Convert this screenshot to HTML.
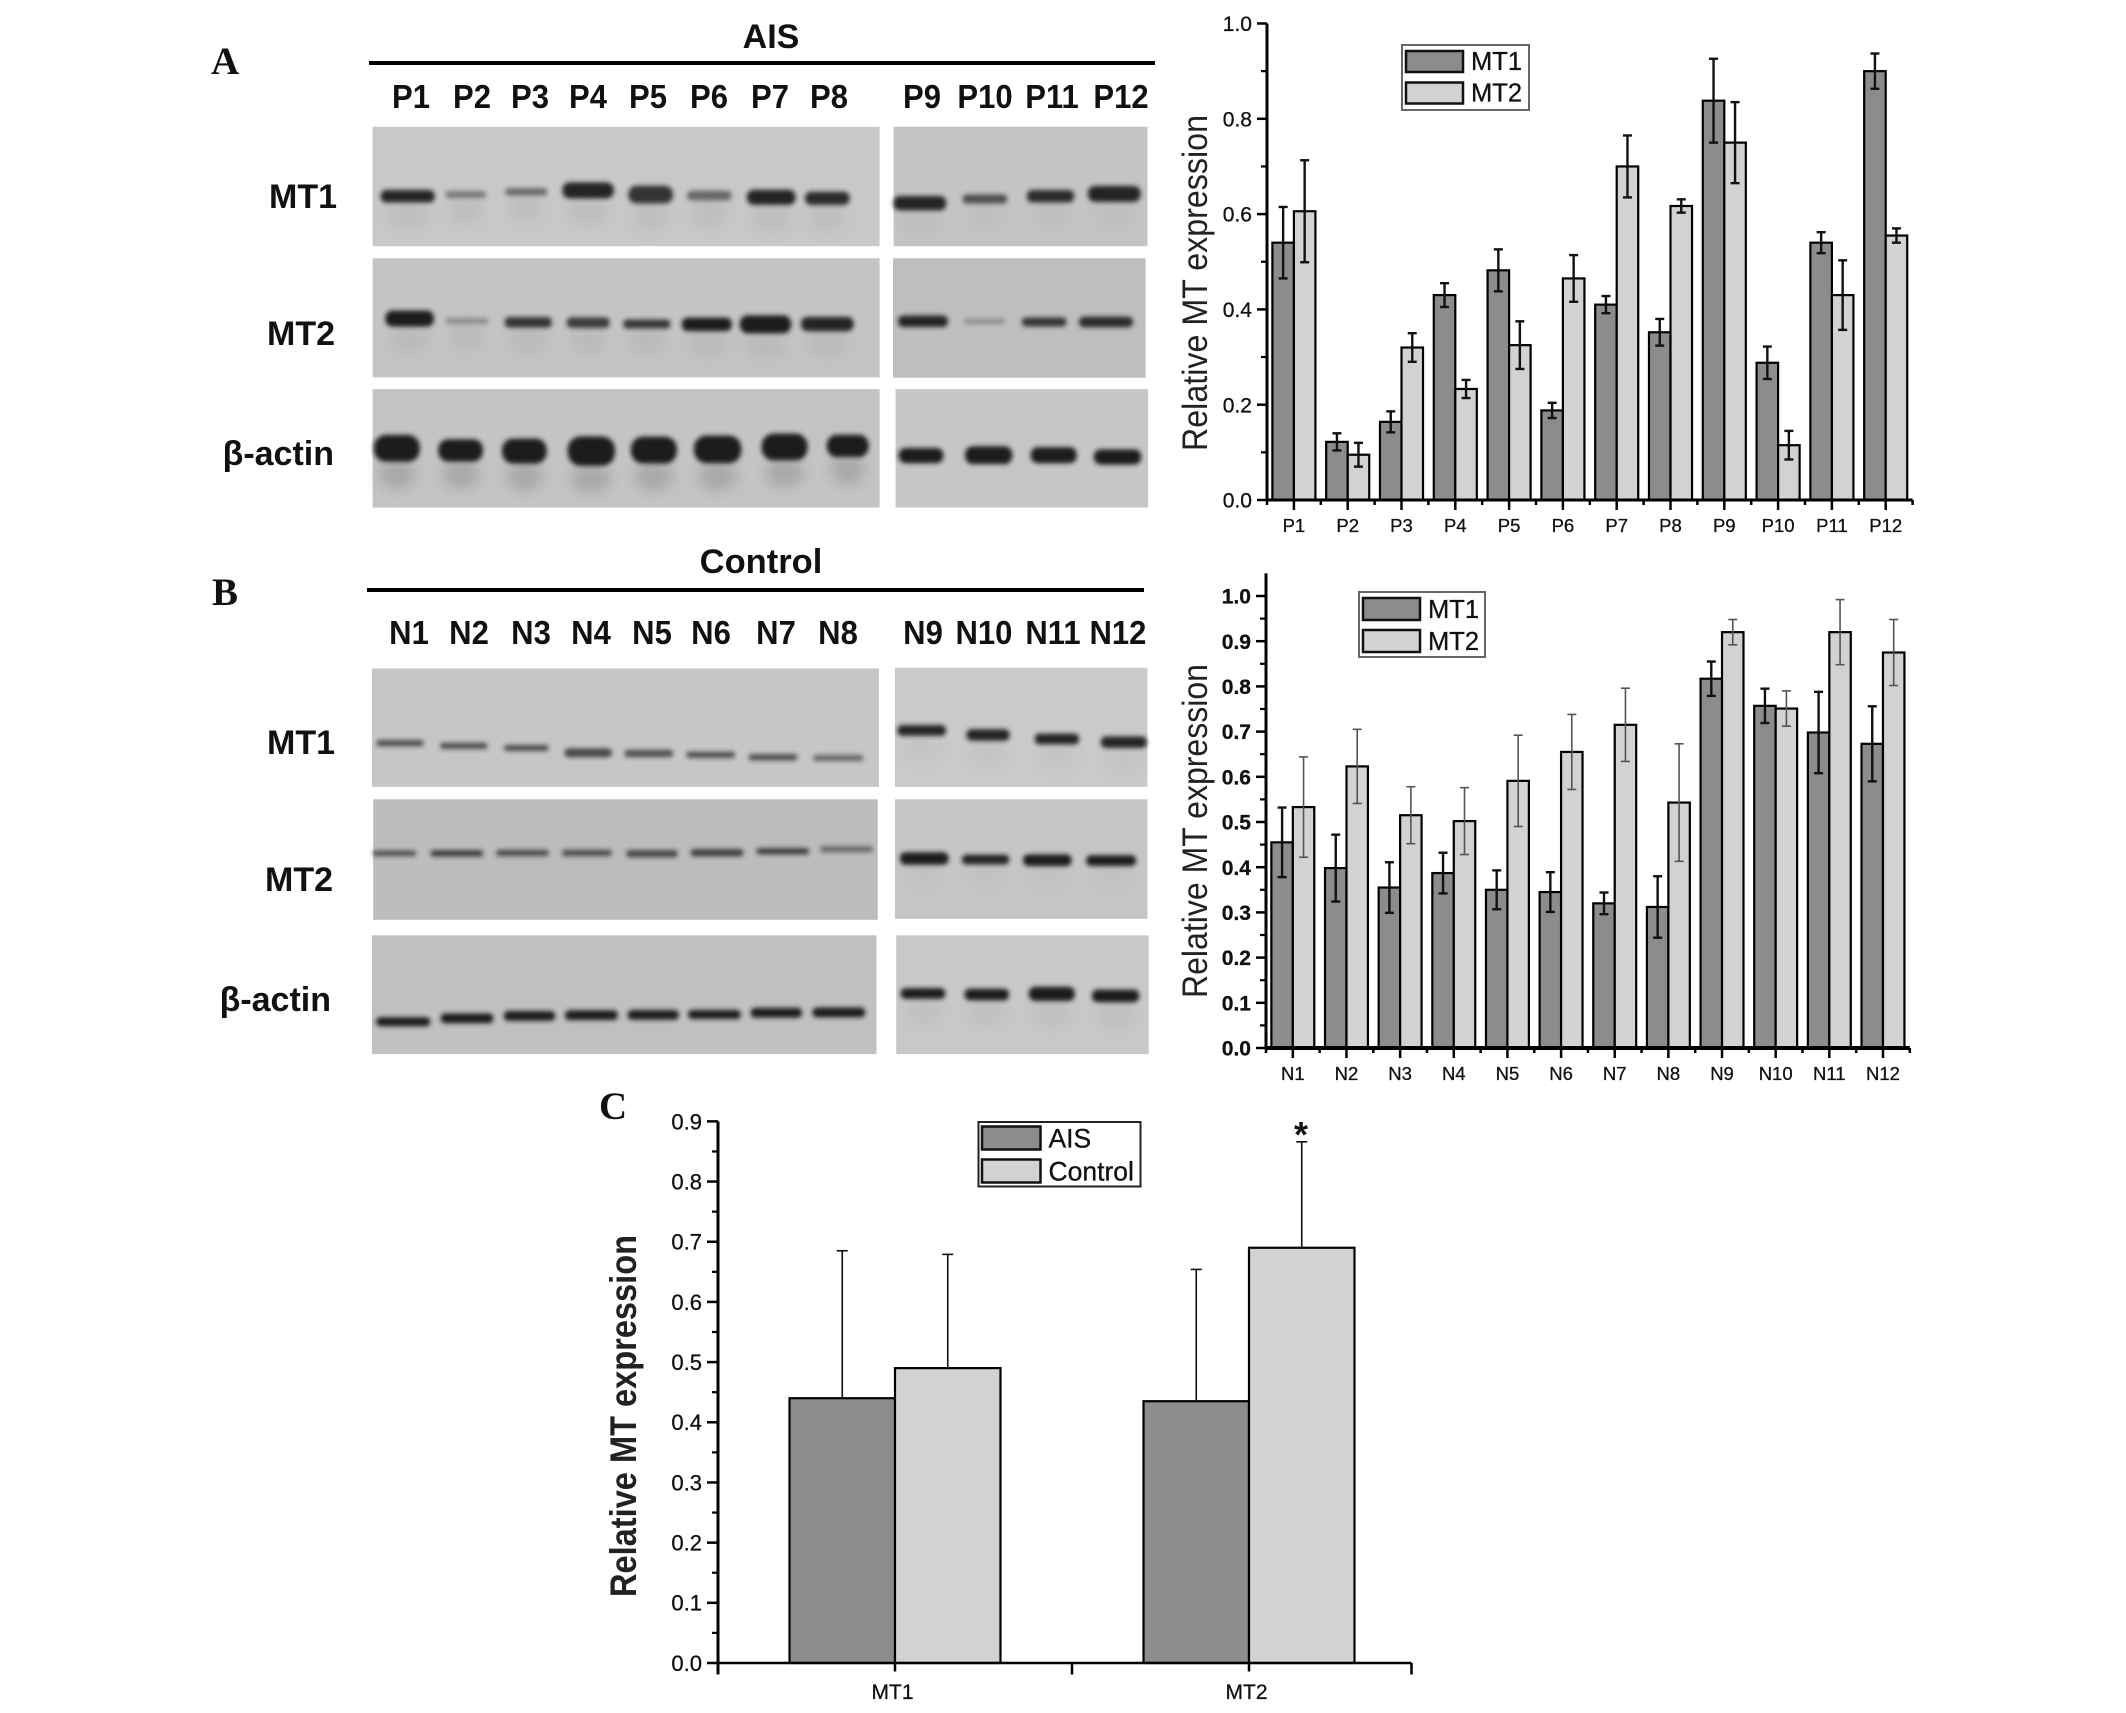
<!DOCTYPE html>
<html lang="en">
<head>
<meta charset="utf-8">
<title>MT1 and MT2 expression in AIS and control samples</title>
<style>
html,body{margin:0;padding:0;background:#fff;}
svg{display:block;}
text{font-family:"Liberation Sans",Arial,sans-serif;fill:#111;}
.blot-label{font-size:33px;font-weight:bold;text-anchor:middle;}
.row-label{font-size:34px;font-weight:bold;text-anchor:end;}
.head{font-size:34px;font-weight:bold;text-anchor:middle;}
.panel-letter{font-family:"Liberation Serif",serif;font-size:39px;font-weight:bold;}
.y-title{font-size:35px;text-anchor:middle;fill:#222;}
.chart-text{stroke:#111;stroke-width:0.3px;}
</style>
</head>
<body>
<svg id="fig" xmlns="http://www.w3.org/2000/svg" width="2126" height="1713" viewBox="0 0 2126 1713">
  <defs>
    <filter id="soft" x="-30%" y="-80%" width="160%" height="260%"><feGaussianBlur stdDeviation="2.4"/></filter>
    <filter id="softer" x="-30%" y="-80%" width="160%" height="260%"><feGaussianBlur stdDeviation="7"/></filter>
  </defs>
  <rect width="2126" height="1713" fill="#fff"/>

  <g id="blots"></g>

  <text class="panel-letter" x="211" y="74">A</text>
  <text class="head" x="771" y="48">AIS</text>
  <rect x="369" y="61" width="786" height="4" fill="#000"/>
  <g>
    <text class="blot-label" x="411" y="108">P1</text>
    <text class="blot-label" x="472" y="108">P2</text>
    <text class="blot-label" x="530" y="108">P3</text>
    <text class="blot-label" x="588" y="108">P4</text>
    <text class="blot-label" x="648" y="108">P5</text>
    <text class="blot-label" x="709" y="108">P6</text>
    <text class="blot-label" x="770" y="108">P7</text>
    <text class="blot-label" x="829" y="108">P8</text>
    <text class="blot-label" x="922" y="108">P9</text>
    <text class="blot-label" x="985" y="108">P10</text>
    <text class="blot-label" x="1052" y="108">P11</text>
    <text class="blot-label" x="1121" y="108">P12</text>
  </g>
  <text class="row-label" x="337" y="208">MT1</text>
  <text class="row-label" x="335" y="345">MT2</text>
  <text class="row-label" x="334" y="465" style="font-family:'Liberation Sans','DejaVu Sans',sans-serif">β-actin</text>

  <text class="panel-letter" x="212" y="605">B</text>
  <text class="head" x="765" y="576" style="font-size:34.5px" transform="translate(-4,-3)">Control</text>
  <rect x="367" y="588" width="777" height="4" fill="#000"/>
  <g>
    <text class="blot-label" x="409" y="644">N1</text>
    <text class="blot-label" x="469" y="644">N2</text>
    <text class="blot-label" x="531" y="644">N3</text>
    <text class="blot-label" x="591" y="644">N4</text>
    <text class="blot-label" x="652" y="644">N5</text>
    <text class="blot-label" x="711" y="644">N6</text>
    <text class="blot-label" x="776" y="644">N7</text>
    <text class="blot-label" x="838" y="644">N8</text>
    <text class="blot-label" x="923" y="644">N9</text>
    <text class="blot-label" x="984" y="644">N10</text>
    <text class="blot-label" x="1053" y="644">N11</text>
    <text class="blot-label" x="1118" y="644">N12</text>
  </g>
  <text class="row-label" x="335" y="754">MT1</text>
  <text class="row-label" x="333" y="891">MT2</text>
  <text class="row-label" x="331" y="1011" style="font-family:'Liberation Sans','DejaVu Sans',sans-serif">β-actin</text>

  <text class="panel-letter" x="599" y="1119">C</text>

  <g id="chartA"></g>
  <g id="chartB"></g>
  <g id="chartC"></g>

  <text class="y-title" transform="translate(1207,283) rotate(-90)" textLength="336" lengthAdjust="spacingAndGlyphs">Relative MT expression</text>
  <text class="y-title" transform="translate(1207,831) rotate(-90)" textLength="334" lengthAdjust="spacingAndGlyphs">Relative MT expression</text>
  <text class="y-title" transform="translate(636,1416) rotate(-90)" textLength="362" lengthAdjust="spacingAndGlyphs" style="font-weight:bold;font-size:37px">Relative MT expression</text>
  <text x="1301" y="1147" text-anchor="middle" style="font-size:36px;font-weight:bold">*</text>
</svg>

<script>
/* ---------- chart A data ---------- */
const catsA = ["P1","P2","P3","P4","P5","P6","P7","P8","P9","P10","P11","P12"];
const mt1A = [0.54,0.122,0.164,0.43,0.482,0.188,0.41,0.352,0.838,0.288,0.54,0.9];
const mt1ErrA = [0.075,0.018,0.022,0.025,0.044,0.016,0.018,0.028,0.088,0.034,0.022,0.037];
const mt2A = [0.606,0.095,0.32,0.233,0.325,0.465,0.70,0.617,0.75,0.115,0.43,0.555];
const mt2ErrA = [0.107,0.025,0.03,0.019,0.05,0.049,0.065,0.014,0.085,0.03,0.073,0.015];
const yTicksA = ["0.0","0.2","0.4","0.6","0.8","1.0"];

/* ---------- chart B data ---------- */
const catsB = ["N1","N2","N3","N4","N5","N6","N7","N8","N9","N10","N11","N12"];
const mt1B = [0.455,0.398,0.355,0.387,0.35,0.345,0.32,0.312,0.817,0.757,0.698,0.673];
const mt1ErrB = [0.077,0.074,0.056,0.045,0.043,0.044,0.024,0.068,0.038,0.038,0.09,0.083];
const mt2B = [0.533,0.623,0.515,0.502,0.591,0.655,0.715,0.543,0.92,0.751,0.92,0.875];
const mt2ErrB = [0.111,0.082,0.063,0.074,0.101,0.083,0.081,0.13,0.028,0.039,0.072,0.073];
const yTicksB = ["0.0","0.1","0.2","0.3","0.4","0.5","0.6","0.7","0.8","0.9","1.0"];

/* ---------- chart C data ---------- */
const catsC = ["MT1","MT2"];
const aisC = [0.44,0.435];
const aisErrC = [0.245,0.219];
const controlC = [0.49,0.69];
const controlErrC = [0.189,0.176];
const yTicksC = ["0.0","0.1","0.2","0.3","0.4","0.5","0.6","0.7","0.8","0.9"];

const NS = "http://www.w3.org/2000/svg";
function mk(parent, tag, attrs, txt) {
  const el = document.createElementNS(NS, tag);
  for (const k in attrs) el.setAttribute(k, attrs[k]);
  if (txt !== undefined) el.textContent = txt;
  parent.appendChild(el);
  return el;
}

function drawChart(root, cfg) {
  const x = i => cfg.x0 + (i + 0.5) * cfg.step;
  const y = v => cfg.yZero - v * cfg.yScale;
  const xEnd = cfg.xEnd || cfg.x0 + cfg.cats.length * cfg.step;
  const barW = cfg.barFrac * cfg.step;
  cfg.cats.forEach((cat, i) => {
    cfg.series.forEach((s, j) => {
      const left = x(i) + (j === 0 ? -barW : 0);
      const top = y(s.values[i]);
      const bar = mk(root, "rect", { x: left, y: top, width: barW, height: cfg.yZero - top, fill: s.fill, stroke: "#000", "stroke-width": cfg.barStroke });
      
      
    });
  });
  cfg.cats.forEach((cat, i) => {
    cfg.series.forEach((s, j) => {
      const cx = x(i) + (j === 0 ? -barW / 2 : barW / 2);
      const hi = y(s.values[i] + s.errs[i]);
      const lo = cfg.upOnly ? y(s.values[i]) : y(s.values[i] - s.errs[i]);
      const g = mk(root, "g", { stroke: s.errColor, "stroke-width": s.errWidth, fill: "none" });
      
      
      mk(g, "line", { x1: cx, x2: cx, y1: hi, y2: lo });
      mk(g, "line", { x1: cx - cfg.cap, x2: cx + cfg.cap, y1: hi, y2: hi });
      if (!cfg.upOnly) mk(g, "line", { x1: cx - cfg.cap, x2: cx + cfg.cap, y1: lo, y2: lo });
    });
  });
  const yAxis = mk(root, "line", { x1: cfg.x0, x2: cfg.x0, y1: y(cfg.yTop), y2: cfg.yZero + (cfg.axisExtend || 0), stroke: "#000", "stroke-width": 3 });
  
  
  const xAxis = mk(root, "line", { x1: cfg.x0, x2: xEnd, y1: cfg.yZero, y2: cfg.yZero, stroke: "#000", "stroke-width": cfg.xAxisW });
  
  

  cfg.yLabels.forEach(lbl => {
    const v = parseFloat(lbl);
    const tick = mk(root, "line", { x1: cfg.x0 - cfg.major, x2: cfg.x0, y1: y(v), y2: y(v), stroke: "#000", "stroke-width": 2.5 });
    
    
    const t = mk(root, "text", { class: "chart-text", x: cfg.x0 - cfg.major - 5, y: y(v) + cfg.yFont * 0.36, "text-anchor": "end", style: "font-size:" + cfg.yFont + "px;" + (cfg.yBold ? "font-weight:bold;" : "") }, lbl);
    
    
  });
  for (let k = 0; k < cfg.yLabels.length - 1; k++) {
    const a = parseFloat(cfg.yLabels[k]);
    const b = parseFloat(cfg.yLabels[k + 1]);
    const m = (a + b) / 2;
    const minor = mk(root, "line", { x1: cfg.x0 - cfg.minor, x2: cfg.x0, y1: y(m), y2: y(m), stroke: "#000", "stroke-width": 2.2 });
    
    
  }

  cfg.cats.forEach((cat, i) => {
    const tick = mk(root, "line", { x1: x(i), x2: x(i), y1: cfg.yZero, y2: cfg.yZero + cfg.catTick, stroke: "#000", "stroke-width": 2.5 });
    
    
    const t = mk(root, "text", { class: "chart-text", x: x(i) + (cfg.xLabelDx || 0), y: cfg.xLabelY, "text-anchor": "middle", style: "font-size:" + cfg.xFont + "px;" }, cat);
    
    
  });
  for (let i = 0; i <= cfg.cats.length; i++) {
    const bx = Math.min(cfg.x0 + i * cfg.step, xEnd);
    const tick = mk(root, "line", { x1: bx, x2: bx, y1: cfg.yZero, y2: cfg.yZero + cfg.edgeTick, stroke: "#000", "stroke-width": 2.5 });
    
    
  }

  const L = cfg.legend;
  const box = mk(root, "rect", { x: L.x, y: L.y, width: L.w, height: L.h, fill: "#fff", stroke: L.border, "stroke-width": 2 });
  
  
  cfg.series.forEach((s, j) => {
    const sw = mk(root, "rect", { x: L.swX, y: L.rowsY[j], width: L.swW, height: L.swH, fill: s.fill, stroke: "#111", "stroke-width": 2.5 });
    
    
    const t = mk(root, "text", { class: "chart-text", x: L.textX, y: L.rowsY[j] + L.swH - 2, style: "font-size:" + L.font + "px;" + (L.bold ? "font-weight:bold;" : "") }, s.label);
    
    
  });
}

const darkFill = "#8c8c8c";
const lightFill = "#d2d2d2";

drawChart(document.getElementById("chartA"), {
  cats: catsA, x0: 1267, step: 53.8, yZero: 500, yScale: 476.5, yTop: 1.0, yLabels: yTicksA,
  barFrac: 0.4, barStroke: 2.2, cap: 4.5, major: 10, minor: 6, catTick: 10, edgeTick: 5, xAxisW: 3,
  yFont: 21, xFont: 18.5, xLabelY: 532,
  series: [
    { name: "mt1", label: "MT1", values: mt1A, errs: mt1ErrA, fill: darkFill, errColor: "#111", errWidth: 2.4 },
    { name: "mt2", label: "MT2", values: mt2A, errs: mt2ErrA, fill: lightFill, errColor: "#111", errWidth: 2.4 }
  ],
  legend: { x: 1402, y: 45, w: 127, h: 65, border: "#666", swX: 1406, swW: 57, swH: 21, rowsY: [51, 82.5], textX: 1471, font: 25.5 }
});

drawChart(document.getElementById("chartB"), {
  cats: catsB, x0: 1266, step: 53.65, yZero: 1048, yScale: 452, yTop: 1.05, yLabels: yTicksB,
  barFrac: 0.4, barStroke: 2.2, cap: 4.5, major: 10, minor: 6, catTick: 10, edgeTick: 5, xAxisW: 4,
  yFont: 21, yBold: true, xFont: 18.5, xLabelY: 1080,
  series: [
    { name: "mt1", label: "MT1", values: mt1B, errs: mt1ErrB, fill: darkFill, errColor: "#111", errWidth: 2.4 },
    { name: "mt2", label: "MT2", values: mt2B, errs: mt2ErrB, fill: lightFill, errColor: "#555", errWidth: 1.6 }
  ],
  legend: { x: 1359, y: 592, w: 126, h: 65, border: "#666", swX: 1363, swW: 57, swH: 22, rowsY: [598, 630], textX: 1428, font: 25.5 }
});

drawChart(document.getElementById("chartC"), {
  cats: catsC, x0: 718, step: 354, xEnd: 1411.5, yZero: 1663, yScale: 601.8, yTop: 0.9, yLabels: yTicksC, axisExtend: 11,
  barFrac: 0.298, barStroke: 2.2, cap: 5.5, major: 11, minor: 6, catTick: 8.5, edgeTick: 11.5, xAxisW: 2.5,
  yFont: 22, xFont: 21, xLabelY: 1699, xLabelDx: -2.5, upOnly: true,
  series: [
    { name: "ais", label: "AIS", values: aisC, errs: aisErrC, fill: darkFill, errColor: "#111", errWidth: 1.6 },
    { name: "control", label: "Control", values: controlC, errs: controlErrC, fill: lightFill, errColor: "#111", errWidth: 1.6 }
  ],
  legend: { x: 978.5, y: 1122, w: 162, h: 64.5, border: "#222", swX: 982, swW: 58.5, swH: 23, rowsY: [1126.5, 1159.5], textX: 1048.5, font: 26.5 }
});

/* ---------- western-blot panels (image-like artwork, not chart data) ---------- */
const blotScaleX = 1.568, blotScaleY = 2.904;
const bandGrowW = 1.06, bandGrowH = 1.3;
const blotPanels = [
  { name: "a-mt1-left", ox: 180, oy: 0, box: [302, 368, 1097, 715], bg: "#c8c8c8", smear: 0.1, bands: [
    [357,570,80,28,.95],[448,565,60,16,.45],[543,557,62,16,.55],[640,553,76,36,.95],[738,565,66,40,.85],[830,568,66,22,.55],[927,573,72,34,.95],[1015,576,66,30,.9]] },
  { name: "a-mt1-right", ox: 180, oy: 0, box: [1119, 368, 1517, 715], bg: "#c4c4c4", smear: 0.06, bands: [
    [1160,590,78,32,.95],[1262,578,66,20,.7],[1365,570,70,28,.9],[1465,563,78,36,.95]] },
  { name: "a-mt2-left", ox: 180, oy: 0, box: [302, 750, 1097, 1096], bg: "#c4c4c4", smear: 0.1, bands: [
    [360,925,72,36,1],[450,932,64,14,.3],[546,936,70,24,.85],[640,937,64,24,.8],[732,941,70,20,.85],[826,942,74,30,1],[918,942,76,40,1],[1015,941,78,32,.95]] },
  { name: "a-mt2-right", ox: 180, oy: 0, box: [1118, 750, 1514, 1097], bg: "#bebebe", smear: 0, bands: [
    [1165,933,74,26,.95],[1262,933,60,12,.3],[1355,935,66,20,.85],[1452,935,80,24,.9]] },
  { name: "a-actin-left", ox: 180, oy: 0, box: [302, 1130, 1097, 1474], bg: "#c4c4c4", smear: 0.3, bands: [
    [340,1302,68,60,1],[440,1308,66,50,1],[540,1310,66,56,1],[645,1310,70,66,1],[743,1307,68,60,1],[843,1305,70,62,1],[948,1298,68,60,1],[1047,1295,62,50,1]] },
  { name: "a-actin-right", ox: 180, oy: 0, box: [1122, 1130, 1518, 1474], bg: "#c6c6c6", smear: 0, bands: [
    [1162,1323,66,34,1],[1268,1322,70,40,1],[1370,1322,68,36,1],[1470,1327,70,34,1]] },
  { name: "b-mt1-left", ox: 180, oy: 540, box: [301, 373, 1096, 717], bg: "#c6c6c6", smear: 0, bands: [
    [345,590,70,14,.7],[445,598,70,14,.7],[543,604,66,14,.7],[640,618,70,20,.75],[735,620,72,16,.7],[832,624,72,14,.7],[930,631,72,14,.7],[1032,633,74,14,.55]] },
  { name: "b-mt1-right", ox: 180, oy: 540, box: [1121, 371, 1517, 717], bg: "#cacaca", smear: 0.06, bands: [
    [1163,553,72,24,.95],[1267,566,64,26,.95],[1375,578,66,24,.95],[1480,587,68,26,.95]] },
  { name: "b-mt2-left", ox: 180, oy: 540, box: [303, 753, 1094, 1103], bg: "#bcbcbc", smear: 0, bands: [
    [336,910,64,12,.7],[434,910,78,14,.8],[537,909,78,14,.7],[638,909,74,14,.7],[740,911,76,16,.75],[842,908,78,16,.8],[945,904,78,14,.8],[1045,898,78,14,.5]] },
  { name: "b-mt2-right", ox: 180, oy: 540, box: [1121, 753, 1517, 1100], bg: "#c6c6c6", smear: 0.04, bands: [
    [1167,925,72,28,1],[1263,928,70,22,.95],[1360,930,72,26,1],[1460,931,74,24,1]] },
  { name: "b-actin-left", ox: 180, oy: 540, box: [301, 1148, 1092, 1493], bg: "#c0c0c0", smear: 0, bands: [
    [350,1399,80,20,1],[450,1389,78,22,1],[548,1382,76,22,1],[645,1380,78,22,1],[742,1379,76,22,1],[838,1378,78,20,1],[935,1373,76,22,1],[1033,1372,78,22,1]] },
  { name: "b-actin-right", ox: 180, oy: 540, box: [1123, 1148, 1519, 1493], bg: "#c8c8c8", smear: 0.08, bands: [
    [1165,1317,66,24,1],[1265,1320,66,26,1],[1367,1318,68,32,1],[1467,1324,70,28,1]] }
];

const blotRoot = document.getElementById("blots");
blotPanels.forEach(p => {
  const px = v => v / blotScaleX + p.ox;
  const py = v => v / blotScaleY + p.oy;
  const g = mk(blotRoot, "g", {});
  
  
  const bg = mk(g, "rect", { x: px(p.box[0]), y: py(p.box[1]), width: (p.box[2] - p.box[0]) / blotScaleX, height: (p.box[3] - p.box[1]) / blotScaleY, fill: p.bg });
  
  
  p.bands.forEach(b => {
    const w = bandGrowW * b[2] / blotScaleX, h = bandGrowH * b[3] / blotScaleY;
    if (p.smear > 0) {
      const sm = mk(g, "ellipse", { cx: px(b[0]), cy: py(b[1]) + h / 2 + 13, rx: w * 0.42, ry: 14, fill: "#666", opacity: p.smear, filter: "url(#softer)" });
      
      
    }
    const r = mk(g, "rect", { x: px(b[0]) - w / 2, y: py(b[1]) - h / 2, width: w, height: h, rx: h * 0.45, ry: h * 0.45, fill: "#1c1c1c", opacity: b[4], filter: "url(#soft)" });
    
    
  });
});

/* narrow the taller lane labels back to their original widths */
document.querySelectorAll(".blot-label").forEach(el => {
  el.setAttribute("textLength", el.getComputedTextLength() * 0.94);
  el.setAttribute("lengthAdjust", "spacingAndGlyphs");
});
</script>
</body>
</html>
